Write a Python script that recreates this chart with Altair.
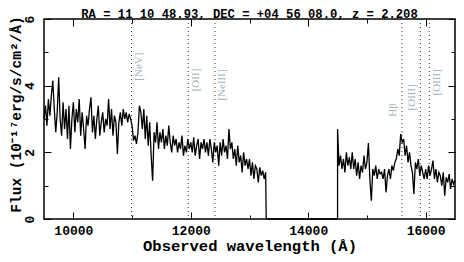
import altair as alt
import pandas as pd

# ---------------- data ----------------
wl_step = 25
wl_start_left = 9500
flux_left = [
    3.0, 3.4, 2.8, 3.6, 3.1, 3.7, 4.15, 3.3, 2.6, 3.2,
    4.25, 3.0, 2.5, 3.5, 2.7, 3.3, 2.4, 3.4, 2.1, 3.0,
    3.5, 2.6, 3.3, 2.9, 3.6, 2.5, 3.2, 2.7, 2.1, 3.1,
    2.8, 3.3, 3.65, 2.6, 3.1, 2.4, 3.0, 3.4, 2.5, 2.9,
    3.2, 2.6, 3.0, 2.8, 3.6, 2.7, 3.3, 2.5, 3.1, 2.9,
    1.95, 2.9, 3.2, 2.8, 3.3, 3.0, 3.2, 2.9, 3.15, 3.0,
    2.8, 2.35, 2.5, 2.25, 2.6, 3.4, 3.2, 2.7, 3.3, 2.4,
    3.1, 2.2, 2.9, 1.9, 1.15, 2.6, 2.3, 2.9, 2.1, 2.6,
    2.3, 2.7, 2.1, 2.5, 2.2, 2.8, 2.3, 2.0, 2.5, 2.2,
    2.4, 2.0, 2.3, 2.1, 2.5, 1.9, 2.2, 2.0, 2.4, 2.1,
    2.3, 2.0, 2.45, 1.9, 2.2, 2.4, 1.8, 2.3, 2.1, 2.4,
    2.0, 2.3, 1.9, 2.4, 2.1, 1.7, 2.3, 2.0, 2.2, 1.6,
    2.3, 1.9, 2.4, 2.0, 2.2, 1.8, 2.7, 2.1, 2.3, 1.8,
    2.1, 1.6, 2.2, 1.7, 1.9, 1.4, 2.0, 1.6, 1.8, 1.5,
    1.8, 1.3, 1.7, 1.2, 1.6, 1.5, 1.1, 1.55, 1.3, 1.45,
    1.2, 1.4,
]
gap_wl = [13285, 14500]
gap_flux = [0.0, 0.0]
wl_start_right = 14500
flux_right = [
    2.7, 1.6, 1.9, 1.5, 1.8, 1.4, 2.0, 1.6, 1.85, 1.5,
    2.0, 1.5, 1.8, 1.3, 1.7, 1.2, 1.6, 1.4, 1.9, 1.5,
    1.7, 2.28, 1.2, 0.55, 1.5, 1.3, 1.6, 1.2, 1.5, 1.35,
    1.4, 1.2, 1.5, 0.8, 1.3, 1.5, 1.2, 1.6, 1.45, 1.7,
    1.8, 2.1, 1.9, 2.55, 2.3, 2.4, 1.9, 2.2, 1.7, 2.0,
    1.6, 1.4, 0.75, 1.7, 1.5, 1.8, 1.3, 1.6, 1.4, 1.2,
    1.5, 1.2, 1.6, 1.3, 1.5, 1.75, 1.2, 1.5, 1.1, 1.4,
    1.3, 1.0, 1.4, 0.7, 1.25, 1.1, 1.35, 0.9, 1.2, 1.05,
    1.15,
]

line_names = ["[NeV]", "[OII]", "[NeIII]", "Hβ", "[OIII]", "[OIII]"]
line_wl = [10991, 11957, 12412, 15595, 15909, 16062]
label_flux = [4.57, 4.17, 4.02, 3.27, 3.65, 4.10]
label_side = ["right", "right", "right", "left", "left", "right"]

x_major = [10000, 12000, 14000, 16000]
x_minor = [10000, 11000, 12000, 13000, 14000, 15000, 16000]
y_major = [0, 2, 4, 6]
y_minor = [0, 1, 2, 3, 4, 5, 6]

title_text = "RA = 11 10 48.93, DEC = +04 56 08.0, z = 2.208"
x_title = "Observed wavelength (Å)"
y_title = "Flux (10⁻¹⁷erg/s/cm²/Å)"

# ---------------- tables ----------------
wl_all = ([wl_start_left + wl_step * i for i in range(len(flux_left))]
          + gap_wl
          + [wl_start_right + wl_step * i for i in range(len(flux_right))])
flux_all = flux_left + gap_flux + flux_right
spec_df = pd.DataFrame({"wl": wl_all, "flux": flux_all, "i": list(range(len(wl_all)))})
lines_df = pd.DataFrame({"name": line_names, "wl": line_wl,
                         "ly": label_flux, "side": label_side})
title_df = pd.DataFrame({"t": [title_text]})

W, H = 411, 200
MONO = "Liberation Mono"
SERIF = "Liberation Serif"
xscale = alt.Scale(domain=[9500, 16500], nice=False, zero=False)
yscale = alt.Scale(domain=[0, 6], nice=False)


def tick_axis(orient, values, size):
    return alt.Axis(orient=orient, values=values, tickSize=size, offset=-size,
                    labels=False, domain=False, grid=False, title=None,
                    ticks=True, tickColor="black", tickWidth=1)


def ghost(xax, yax):
    return alt.Chart(spec_df).mark_line(opacity=0).encode(
        x=alt.X("wl:Q", scale=xscale, axis=xax),
        y=alt.Y("flux:Q", scale=yscale, axis=yax),
    )


rules = alt.Chart(lines_df).mark_rule(
    color="#333333", strokeWidth=1, strokeDash=[1, 3]
).encode(x=alt.X("wl:Q", scale=xscale, axis=None))

spectrum = alt.Chart(spec_df).mark_line(
    color="black", strokeWidth=1.3
).encode(
    x=alt.X("wl:Q", scale=xscale, axis=alt.Axis(
        orient="bottom", values=x_major, format="d", ticks=False, domain=False,
        grid=False, labelPadding=5, labelFont=MONO, labelFontSize=13,
        labelFontWeight="bold", labelColor="black",
        title=x_title, titleFont=MONO, titleFontSize=15.5,
        titleFontWeight="bold", titleColor="black", titlePadding=1)),
    y=alt.Y("flux:Q", scale=yscale, axis=alt.Axis(
        orient="left", values=y_major, format="d", ticks=False, domain=False,
        grid=False, labelAngle=270, labelAlign="center", labelBaseline="bottom",
        labelPadding=8, labelFont=MONO, labelFontSize=13,
        labelFontWeight="bold", labelColor="black",
        title=y_title, titleFont=MONO, titleFontSize=14.5,
        titleFontWeight="bold", titleColor="black",
        titleAngle=270, titleAlign="center", titleBaseline="bottom",
        titleX=-21, titleY=95)),
    order=alt.Order("i:Q"),
)

text_common = dict(font=SERIF, fontSize=11, color="#9fb3bc", angle=270,
                   align="center", baseline="middle")
labels_r = alt.Chart(lines_df).transform_filter(
    alt.datum.side == "right"
).mark_text(dy=7.5, **text_common).encode(
    x=alt.X("wl:Q", scale=xscale, axis=None),
    y=alt.Y("ly:Q", scale=yscale, axis=None),
    text="name:N",
)
labels_l = alt.Chart(lines_df).transform_filter(
    alt.datum.side == "left"
).mark_text(dy=-8.5, **text_common).encode(
    x=alt.X("wl:Q", scale=xscale, axis=None),
    y=alt.Y("ly:Q", scale=yscale, axis=None),
    text="name:N",
)

title_mark = alt.Chart(title_df).mark_text(
    font=MONO, fontSize=12.2, fontWeight="bold", color="black",
    align="center", baseline="alphabetic"
).encode(x=alt.value(W / 2), y=alt.value(-1.5), text="t:N")

chart = alt.layer(
    rules,
    spectrum,
    labels_r,
    labels_l,
    title_mark,
    ghost(tick_axis("bottom", x_major, 7), tick_axis("left", y_major, 7)),
    ghost(tick_axis("bottom", x_minor, 4), tick_axis("left", y_minor, 4)),
    ghost(tick_axis("top", x_major, 7), tick_axis("right", y_major, 7)),
    ghost(tick_axis("top", x_minor, 4), tick_axis("right", y_minor, 4)),
).resolve_axis(
    x="independent", y="independent"
).properties(
    width=W, height=H, autosize="none",
    padding={"left": 36, "top": 11, "right": 1, "bottom": 35},
).configure_view(
    stroke="black", strokeWidth=1.5
)

chart.save("out.html", embed_options={"renderer": "svg", "actions": False})
